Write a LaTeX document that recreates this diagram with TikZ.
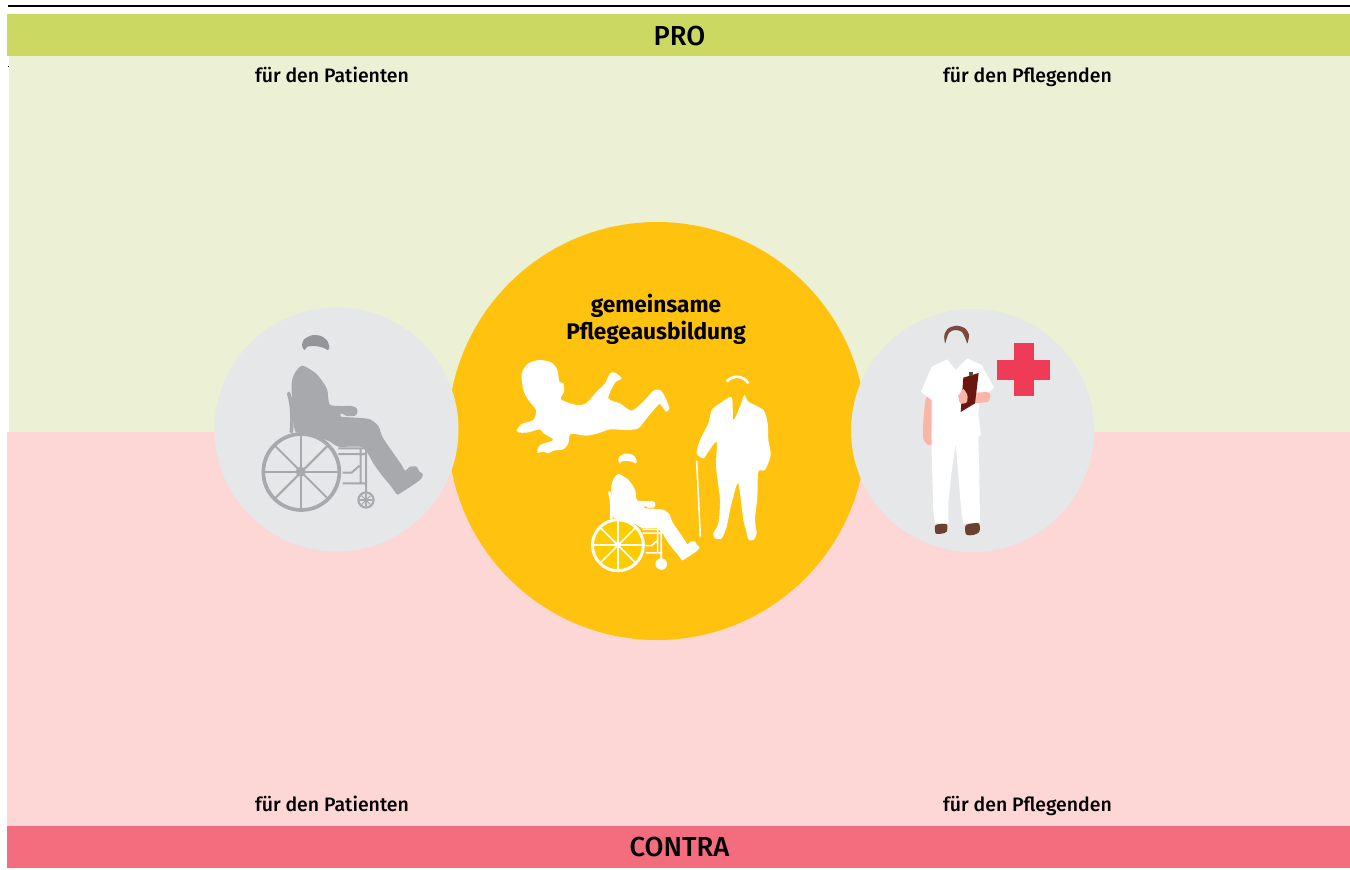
\documentclass[tikz,border=0pt]{standalone}
\usepackage{fontspec}
\setmainfont{Fira Sans Medium}[BoldFont={Fira Sans Bold}]
\definecolor{barG}{HTML}{CBD861}
\definecolor{lightG}{HTML}{ECF0D5}
\definecolor{lightR}{HTML}{FCD7D5}
\definecolor{barR}{HTML}{F46D7F}
\definecolor{gold}{HTML}{FFC20E}
\definecolor{goldB}{HTML}{FFCC00}
\definecolor{disc}{HTML}{E6E7E9}
\definecolor{sil}{HTML}{A7A9AC}
\definecolor{hairG}{HTML}{939598}
\definecolor{skin}{HTML}{F9B5A6}
\definecolor{brownH}{HTML}{7A4A3C}
\definecolor{board}{HTML}{6B1710}
\definecolor{shoe}{HTML}{6B4031}
\definecolor{crossR}{HTML}{F03B57}
\tikzset{
  lab/.style={inner sep=0pt,anchor=base,font=\fontsize{14.6}{18}\selectfont,text=black},
  head/.style={inner sep=0pt,anchor=base,font=\fontsize{20.6}{24}\selectfont,text=black},
  soft/.style={smooth cycle,tension=0.45},
}
% #1 figure colour, #2 hair colour, #3 wheel fill, #4 scale for line widths, #5 small-wheel interior
\newcommand{\chairfig}[5]{%
  \fill[#2] plot[soft] coordinates {(306,135)(312,118)(335,106)(360,107)(380,120)(388,140)(384,150)(370,143)(345,138)(322,140)(314,150)(308,143)};
  \draw[#1,line width=#4*3.7pt,line cap=round] (266,280) .. controls (276,310) and (278,350) .. (274,395);
  \fill[#3] (304,516) circle (114);
  \draw[#1,line width=#4*3.7pt] (304,516) circle (114);
  \foreach \a in {0,45,...,315}{\draw[#1,line width=#4*2pt] (304,516) -- ++(\a:114);}
  \fill[#1] (302,515) circle (15);
  \draw[#1,line width=#4*2pt] (415,445) -- (497,445) (415,462) -- (497,462) (428,518) -- (455,518) -- (478,497) (428,550) -- (500,550) (482,445) -- (482,550) (498,445) -- (498,578);
  \fill[#1] plot[soft] coordinates {(307,197)(345,218)(368,245)(382,270)(389,313)(420,318)(455,318)(470,325)(472,338)(465,347)(440,348)(424,340)(423,350)(470,353)(510,358)(535,378)(547,410)(570,445)(605,495)(615,512)(630,500)(650,500)(658,515)(668,522)(660,540)(600,580)(590,582)(570,555)(545,525)(520,490)(500,455)(480,440)(415,440)(390,425)(340,405)(305,397)(285,393)(278,330)(275,250)(285,218)};
  \fill[#1] (498,600) circle (26);
  #5
}
\begin{document}
\begin{tikzpicture}[x=0.75pt,y=-0.75pt]
\useasboundingbox (0,0) rectangle (1350,869);
\fill[white] (0,0) rectangle (1350,869);
\fill[black] (8,5) rectangle (1350,7);
\fill[lightG] (9,56) rectangle (1350,432);
\fill[lightR] (7,432) rectangle (1350,826);
\fill[barG] (7,14) rectangle (1350,56);
\fill[barR] (7,826) rectangle (1350,868);
\fill[black] (7.5,65.5) rectangle (9,67);
\fill[gold] (657,431) circle (209);
\fill[disc] (336.5,429.5) circle (122);
\fill[disc] (972.5,430.5) circle (121.5);

\node[head] (pro) at (679.5,45.5) {PRO};
\node[head] (contra) at (679.5,856.5) {CONTRA};
\node[lab] (p1) at (332,82) {für den Patienten};
\node[lab] (p2) at (1027.5,82) {für den Pflegenden};
\node[lab] (c1) at (332,811) {für den Patienten};
\node[lab] (c2) at (1027.5,811) {für den Pflegenden};
\node[inner sep=0pt,align=center,font=\fontsize{17}{20.25}\bfseries\selectfont] (title) at (656,319) {gemeinsame\\Pflegeausbildung};

% grey wheelchair user
\begin{scope}[shift={(200,300)},x=0.25pt,y=-0.25pt]
  \chairfig{sil}{hairG}{disc}{0.75}{%
    \fill[disc] (498,600) circle (19);
    \foreach \a in {0,45,...,315}{\draw[sil,line width=0.8pt] (498,600) -- ++(\a:19);}
    \fill[sil] (498,600) circle (4);}
\end{scope}
% white wheelchair user
\begin{scope}[shift={(550,430)},x=0.1675pt,y=-0.1675pt]
  \chairfig{white}{white}{goldB}{0.6}{}
\end{scope}
% baby and old man
\begin{scope}[shift={(500,340)},x=0.25pt,y=-0.25pt]
  \fill[white] plot[soft] coordinates {(65,100)(85,70)(120,60)(155,68)(172,90)(178,125)(190,130)(192,155)(183,178)(230,195)(258,190)(290,155)(315,130)(330,100)(345,98)(365,115)(345,128)(325,175)(360,190)(395,212)(430,185)(460,152)(480,150)(495,170)(508,205)(498,215)(480,192)(465,205)(440,235)(415,265)(380,270)(330,268)(300,278)(260,287)(212,282)(205,310)(190,328)(160,332)(145,340)(130,335)(112,338)(120,315)(160,300)(130,280)(120,268)(85,277)(60,278)(50,272)(65,252)(100,240)(108,210)(85,180)(70,150)};
  \fill[white] plot[soft] coordinates {(695,172)(700,240)(720,200)(733,165)(745,185)(790,210)(803,250)(805,300)(812,345)(795,390)(775,395)(772,470)(765,540)(770,580)(760,600)(745,598)(738,570)(730,540)(715,430)(700,470)(690,510)(680,560)(665,595)(645,595)(640,580)(655,550)(660,480)(650,400)(648,365)(650,305)(625,335)(610,355)(590,340)(600,300)(625,250)(635,210)(660,190)};
  \draw[white,line width=2pt] (680,124) .. controls (700,104) and (730,106) .. (745,130);
  \draw[white,line width=1.2pt] (590,362) -- (601,590);
\end{scope}
% nurse
\begin{scope}[shift={(890,315)},x=0.25pt,y=-0.25pt]
  \fill[brownH] plot[soft] coordinates {(165,85)(163,60)(175,40)(200,32)(225,40)(237,60)(232,85)(226,70)(215,50)(195,45)(178,52)(170,70)};
  \fill[skin] plot[soft] coordinates {(108,250)(125,255)(125,370)(130,385)(115,390)(100,370)(100,320)};
  \fill[white] (172,133) -- (197,165) -- (232,130) -- (275,150) -- (312,218) -- (298,232) -- (270,240) -- (265,300) -- (273,360) -- (265,365) -- (268,480) -- (270,620) -- (262,625) -- (220,625) -- (215,600) -- (205,480) -- (197,385) -- (185,470) -- (175,560) -- (175,625) -- (135,625) -- (130,590) -- (125,420) -- (125,255) -- (93,230) -- (125,155) -- cycle;
  \fill[skin] plot[soft] coordinates {(210,238)(295,232)(298,255)(285,262)(215,265)(207,250)};
  \fill[board] (220,188) -- (266,174) -- (255,265) -- (212,291) -- cycle;
  \fill[black!70] (238,182) rectangle (250,172);
  \fill[skin] plot[soft] coordinates {(207,245)(212,232)(220,222)(232,240)(230,262)(212,265)};
  \fill[shoe] plot[soft] coordinates {(137,630)(170,628)(170,650)(155,656)(137,655)};
  \fill[shoe] plot[soft] coordinates {(228,630)(266,625)(268,650)(250,660)(228,658)};
  \fill[crossR] (372,84) rectangle (432,243);
  \fill[crossR] (321,135) rectangle (480,195);
\end{scope}
\end{tikzpicture}
\end{document}
